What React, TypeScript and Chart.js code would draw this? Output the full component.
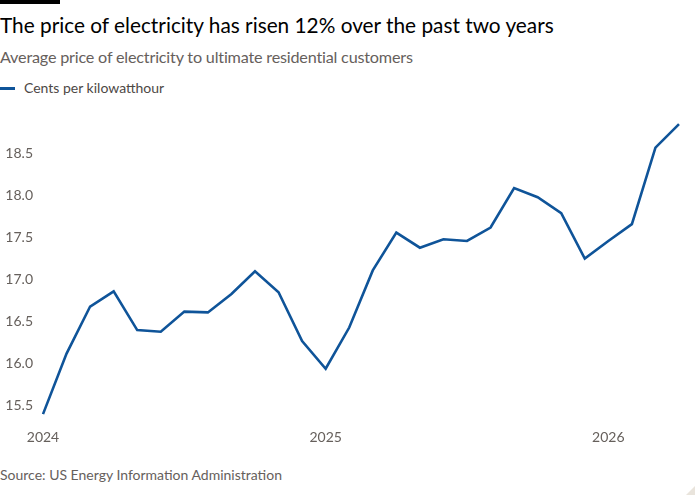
import React, { useEffect, useRef } from 'react';
import { Chart, registerables } from 'chart.js';
Chart.register(...registerables);

const months = [
  '2024-01', '2024-02', '2024-03', '2024-04', '2024-05', '2024-06', '2024-07', '2024-08', '2024-09', '2024-10', '2024-11', '2024-12',
  '2025-01', '2025-02', '2025-03', '2025-04', '2025-05', '2025-06', '2025-07', '2025-08', '2025-09', '2025-10', '2025-11', '2025-12',
  '2026-01', '2026-02', '2026-03', '2026-04',
];
const centsPerKwh = [
  15.40, 16.12, 16.68, 16.86, 16.40, 16.38, 16.62, 16.61, 16.83, 17.10, 16.85, 16.27,
  15.94, 16.43, 17.11, 17.56, 17.38, 17.48, 17.46, 17.62, 18.09, 17.98, 17.79, 17.25,
  17.46, 17.66, 18.57, 18.85,
];
const yTicks = [15.5, 16.0, 16.5, 17.0, 17.5, 18.0, 18.5];
const xTickLabels = ['2024', '2025', '2026'];

const title = 'The price of electricity has risen 12% over the past two years';
const subtitle = 'Average price of electricity to ultimate residential customers';
const seriesName = 'Cents per kilowatthour';
const source = 'Source: US Energy Information Administration';

const LINE = '#0f5499';
const GREY = '#66605c';
const FONT = 'Lato, Roboto, sans-serif';

export default function App() {
  const ref = useRef<HTMLCanvasElement | null>(null);
  useEffect(() => {
    document.body.style.margin = '0';
    if (!ref.current) return;
    const chart = new Chart(ref.current, {
      type: 'line',
      data: {
        labels: months,
        datasets: [{
          label: seriesName,
          data: centsPerKwh,
          borderColor: LINE,
          borderWidth: 2.6,
          pointRadius: 0,
          tension: 0,
          fill: false,
        }],
      },
      options: {
        animation: false,
        responsive: false,
        maintainAspectRatio: false,
        layout: { padding: { top: 11, right: 21, left: 0, bottom: 0 } },
        plugins: { legend: { display: false }, tooltip: { enabled: false }, title: { display: false } },
        scales: {
          x: {
            type: 'category',
            offset: false,
            grid: { display: false, drawTicks: false },
            border: { display: false },
            afterFit: (axis: any) => { axis.height = 30; },
            ticks: {
              autoSkip: false,
              maxRotation: 0,
              padding: 11,
              color: GREY,
              font: { family: FONT, size: 14 },
              callback: (_v: any, i: number) => {
                const m = months[i];
                const y = m.slice(0, 4);
                return m.endsWith('-01') && xTickLabels.includes(y) ? y : '';
              },
            },
          },
          y: {
            min: 15.354,
            max: 18.918,
            grid: { display: false, drawTicks: false },
            border: { display: false },
            afterFit: (axis: any) => { axis.width = 43; },
            afterBuildTicks: (axis: any) => { axis.ticks = yTicks.map((v) => ({ value: v })); },
            ticks: {
              padding: 10,
              color: GREY,
              font: { family: FONT, size: 14 },
              callback: (v: any) => Number(v).toFixed(1),
            },
          },
        },
      },
    });
    return () => chart.destroy();
  }, []);

  const abs = (s: React.CSSProperties): React.CSSProperties => ({ position: 'absolute', whiteSpace: 'nowrap', lineHeight: 1, ...s });

  return (
    <div style={{ position: 'relative', width: 700, height: 500, background: '#fff', overflow: 'hidden' }}>
      <div style={abs({ left: 0, top: 0, width: 60, height: 4, background: '#000' })} />
      <div style={abs({ left: 0, top: 14.5, fontFamily: FONT, fontSize: 20.8, color: '#000' })}>{title}</div>
      <div style={abs({ left: 0, top: 49, fontFamily: FONT, fontSize: 16.2, letterSpacing: -0.2, color: GREY })}>{subtitle}</div>
      <div style={abs({ left: 0, top: 86.5, width: 15, height: 3, background: LINE })} />
      <div style={abs({ left: 24, top: 80.5, fontFamily: FONT, fontSize: 14, color: '#4d4845' })}>{seriesName}</div>
      <canvas ref={ref} width={700} height={348} style={{ position: 'absolute', left: 0, top: 100, width: 700, height: 348 }} />
      <div style={abs({ left: 0, top: 467.5, fontFamily: FONT, fontSize: 14, color: GREY })}>{source}</div>
      <div style={abs({ left: 686, top: 486, width: 0, height: 0, borderLeft: '9px solid transparent', borderBottom: '9px solid #e9e4dc' })} />
    </div>
  );
}
